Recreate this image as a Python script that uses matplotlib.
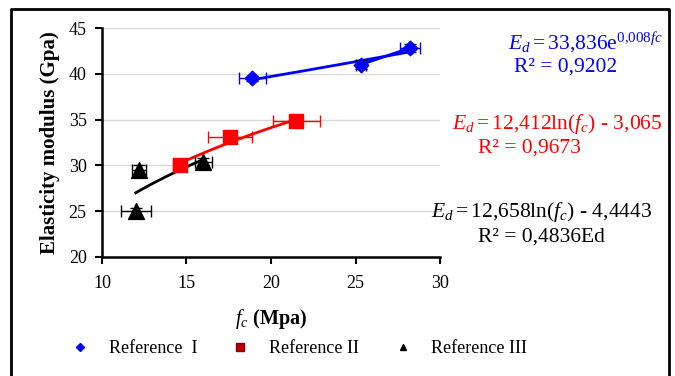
import numpy as np
import matplotlib.pyplot as plt
from matplotlib.lines import Line2D

plt.rcParams['font.family'] = ['Liberation Serif', 'DejaVu Serif']
plt.rcParams['mathtext.fontset'] = 'custom'
plt.rcParams['mathtext.rm'] = 'Liberation Serif'
plt.rcParams['mathtext.it'] = 'Liberation Serif:italic'
plt.rcParams['mathtext.bf'] = 'Liberation Serif:bold'

# data
fc_1 = [18.9, 25.3, 28.2]
ed_1 = [39.5, 41.0, 42.8]
xerr_1 = [0.8, 0.3, 0.6]
yerr_1 = [0.3, 0.5, 0.4]

fc_2 = [14.6, 17.6, 21.5]
ed_2 = [30.0, 33.1, 34.9]
xerr_2 = [0.4, 1.3, 1.4]
yerr_2 = [0.3, 0.5, 0.2]

fc_3 = [12.2, 12.0, 16.0]
ed_3 = [29.5, 25.0, 30.4]
xerr_3 = [0.4, 0.9, 0.5]
yerr_3 = [0.5, 0.4, 0.4]

labels = ['Reference  I', 'Reference II', 'Reference III']

fig = plt.figure(figsize=(6.75, 3.76), dpi=100)
ax = fig.add_axes([0.151, 0.3165, 0.501, 0.609])

# frame around the whole picture
fig.add_artist(Line2D([0.016, 0.016, 0.991, 0.991], [-0.1, 0.977, 0.977, -0.1],
                      transform=fig.transFigure, color='black', lw=2))

blue = '#0000ff'
red = '#ff0000'

# trend lines
x1 = np.linspace(min(fc_1), max(fc_1), 50)
ax.plot(x1, 33.836 * np.exp(0.008 * x1), color=blue, lw=2, zorder=2)
ax.plot(fc_1[1:], ed_1[1:], color=blue, lw=2, zorder=2)
x2 = np.linspace(min(fc_2), max(fc_2), 50)
ax.plot(x2, 12.412 * np.log(x2) - 3.065, color=red, lw=2, zorder=2)
x3 = np.linspace(min(fc_3), max(fc_3), 50)
ax.plot(x3, 12.658 * np.log(x3) - 4.4443, color='black', lw=2, zorder=2)

# error bars
ax.errorbar(fc_1, ed_1, xerr=xerr_1, fmt='none', ecolor=blue, elinewidth=1, capsize=4, zorder=3)
ax.errorbar(fc_1, ed_1, yerr=yerr_1, fmt='none', ecolor='black', elinewidth=1, capsize=4, zorder=3)
ax.errorbar(fc_2, ed_2, xerr=xerr_2, fmt='none', ecolor=red, elinewidth=1, capsize=4, zorder=3)
ax.errorbar(fc_2, ed_2, yerr=yerr_2, fmt='none', ecolor='black', elinewidth=1, capsize=4, zorder=3)
ax.errorbar(fc_3, ed_3, xerr=xerr_3, yerr=yerr_3, fmt='none', ecolor='black', elinewidth=1, capsize=4, zorder=3)

# markers
ax.scatter(fc_1, ed_1, marker='D', s=55, color=blue, zorder=4)
ax.scatter(fc_2, ed_2, marker='s', s=110, color=red, zorder=4)
ax.scatter(fc_3, ed_3, marker='^', s=130, color='black', zorder=4)

ax.set_xlim(10, 30)
ax.set_ylim(20, 45)
ax.set_xticks([10, 15, 20, 25, 30])
ax.set_yticks([20, 25, 30, 35, 40, 45])
ax.yaxis.grid(True, color='#d9d9d9', lw=1)
ax.set_axisbelow(True)
for s in ['top', 'right']:
    ax.spines[s].set_visible(False)
for s in ['left', 'bottom']:
    ax.spines[s].set_linewidth(1.8)
ax.tick_params(direction='out', length=5, width=1.5, labelsize=13)
ax.tick_params(axis='x', pad=8)
ax.tick_params(axis='y', pad=6)
ax.set_xlabel(r'$f_c$ (Mpa)', fontsize=14.5, fontweight='bold', labelpad=11)
ax.set_ylabel('Elasticity modulus (Gpa)', fontsize=15, fontweight='bold', labelpad=6)

# fit equations
fig.text(0.982, 0.888, r'$E_d = 33{,}836\mathrm{e}^{0{,}008fc}$', color=blue, fontsize=15.5, ha='right', va='center')
fig.text(0.838, 0.822, 'R² = 0,9202', color=blue, fontsize=15.5, ha='center', va='center')
fig.text(0.982, 0.670, r'$E_d = 12{,}412\mathrm{ln}(f_c)$ - 3,065', color=red, fontsize=15.5, ha='right', va='center')
fig.text(0.785, 0.606, 'R² = 0,9673', color=red, fontsize=15.5, ha='center', va='center')
fig.text(0.966, 0.436, r'$E_d = 12{,}658\mathrm{ln}(f_c)$ - 4,4443', color='black', fontsize=15.5, ha='right', va='center')
fig.text(0.802, 0.370, 'R² = 0,4836Ed', color='black', fontsize=15.5, ha='center', va='center')

handles = [
    Line2D([], [], ls='none', marker='D', ms=4, color=blue),
    Line2D([], [], ls='none', marker='s', ms=6, color='#c00000', mec='#800000'),
    Line2D([], [], ls='none', marker='^', ms=5, color='black'),
]
fig.legend(handles, labels, loc='center', bbox_to_anchor=(0.443, 0.072), ncol=3,
           frameon=False, fontsize=13, columnspacing=1.9, handlelength=1.0,
           handletextpad=1.1)

fig.savefig('out.png', dpi=100)
